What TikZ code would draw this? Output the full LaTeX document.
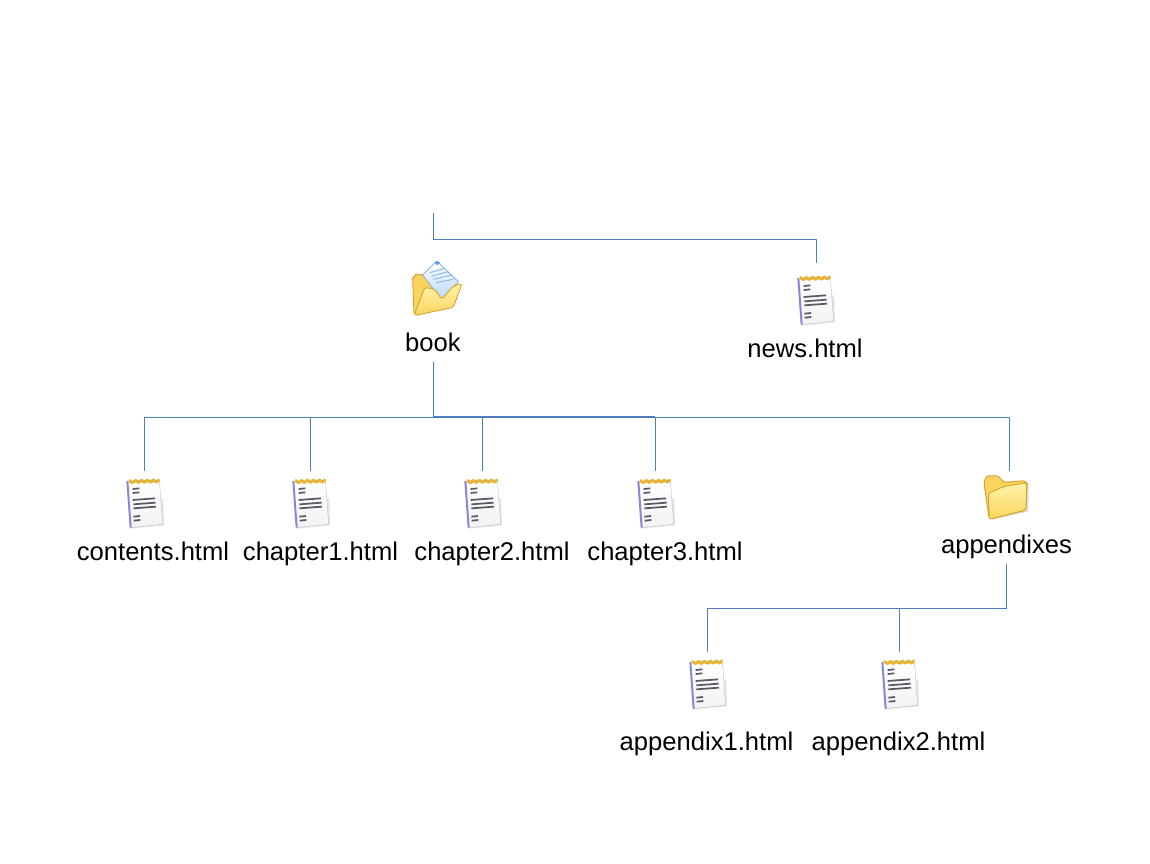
\documentclass[tikz,border=0pt]{standalone}
\usepackage{fontspec}
\setmainfont{Liberation Sans}
\definecolor{wire}{RGB}{79,125,190}
\definecolor{fold}{RGB}{212,165,45}
\definecolor{foldhi}{RGB}{255,244,170}
\definecolor{foldlo}{RGB}{250,212,95}
\definecolor{ink}{RGB}{85,90,100}
\definecolor{ring}{RGB}{232,180,50}
\definecolor{padedge}{RGB}{135,135,215}
\definecolor{paperlo}{RGB}{185,215,250}
\definecolor{paperedge}{RGB}{130,170,225}
\definecolor{paperline}{RGB}{150,185,235}
\definecolor{papertip}{RGB}{70,150,235}
\tikzset{
  x=0.75pt,y=-0.75pt,
  label/.style={font=\fontsize{19.2}{22}\selectfont,text=black,inner sep=0pt,minimum height=30pt,outer sep=0pt,align=center,text height=14pt,text depth=0pt},
  iconbox/.style={inner sep=0pt,outer sep=0pt,minimum width=27pt},
  conn/.style={draw=wire,line width=0.75pt},
  connheavy/.style={draw=wire,line width=1.2pt},
  notepad/.pic={
    \begin{scope}[scale=1/3]
      \fill[black!10] (60,191) -- (162,181) -- (160,100) -- (155,100) -- cycle;
      \shade[top color=white,bottom color=black!5,draw=black!25,line width=0.3pt]
        (52,48) -- (148,45) -- (158,178) -- (62,188) -- cycle;
      \draw[padedge,line width=1.5pt] (52,48) -- (62,188);
      \draw[ink!55,line width=1pt] (56,50) -- (146,47);
      \foreach \i in {0,1,2,3,4}
        \draw[ring,line width=1.9pt,line cap=round] (60+\i*18,46-\i*0.5) arc[start angle=180,end angle=0,radius=7];
      \draw[ink,line width=1.3pt]
        (68,72) -- (88,70) (68,84) -- (88,82)
        (68,105) -- (135,100) (70,118) -- (137,113) (70,130) -- (138,125)
        (70,155) -- (90,153) (71,167) -- (91,165);
    \end{scope}
  },
  closedfolder/.pic={
    \begin{scope}[scale=1/3]
      \fill[black!12] (62,180) -- (175,155) -- (176,80) -- (165,150) -- cycle;
      \filldraw[fill=foldlo,draw=fold,line width=0.7pt,rounded corners=2pt]
        (42,70) -- (48,48) -- (85,47) -- (100,67) -- (165,62) -- (172,72) -- (168,150) -- (58,178) -- cycle;
      \shade[top color=foldhi,bottom color=foldlo,draw=fold,line width=0.7pt,rounded corners=2pt]
        (55,100) -- (100,80) -- (170,68) -- (168,150) -- (58,178) -- cycle;
    \end{scope}
  },
  openfolder/.pic={
    \begin{scope}[scale=1/3]
      \filldraw[fill=foldlo,draw=fold,line width=0.7pt,rounded corners=2pt]
        (68,235) -- (76,225) -- (97,222) -- (130,255) -- (130,300) -- (72,345) -- cycle;
      \shade[top color=white,bottom color=paperlo,draw=paperedge,line width=0.6pt]
        (140,183) -- (205,245) -- (155,300) -- (98,225) -- cycle;
      \draw[paperline,line width=0.8pt]
        (120,218) -- (165,205) (125,228) -- (175,215) (130,238) -- (185,225) (138,248) -- (190,238);
      \fill[papertip] (133,186) -- (150,186) -- (141,196) -- cycle;
      \shade[top color=foldhi,bottom color=foldlo,draw=fold,line width=0.7pt,rounded corners=2pt]
        (104,262) -- (135,268) -- (155,298) -- (190,258) -- (216,250) -- (190,322) -- (72,347) -- cycle;
    \end{scope}
  }
}
\begin{document}
\begin{tikzpicture}
\useasboundingbox (0,0) rectangle (1150,864);
\fill[white] (0,0) rectangle (1150,864);
% text labels
\node[label] (book) at (433,342) {book};
\node[label] (news) at (805,348) {news.html};
\node[label] (contents) at (153,551) {contents.html};
\node[label] (ch1) at (320.5,551) {chapter1.html};
\node[label] (ch2) at (492,551) {chapter2.html};
\node[label] (ch3) at (665,551) {chapter3.html};
\node[label] (appx) at (1006.5,544) {appendixes};
\node[label] (app1) at (706.5,741) {appendix1.html};
\node[label] (app2) at (898.5,741) {appendix2.html};
% icon boxes: their north anchors are where the connectors stop
\node[iconbox,minimum height=46.5pt] (inews) at (816,294) {};
\node[iconbox,minimum height=43.5pt] (icontents) at (144,500) {};
\node[iconbox,minimum height=43.5pt] (ich1) at (310,500) {};
\node[iconbox,minimum height=43.5pt] (ich2) at (482.5,500) {};
\node[iconbox,minimum height=43.5pt] (ich3) at (655,500) {};
\node[iconbox,minimum height=43.5pt] (iappx) at (1009,500) {};
\node[iconbox,minimum height=43.5pt] (iapp1) at (707,681) {};
\node[iconbox,minimum height=43.5pt] (iapp2) at (899,681) {};
% icons
\pic at (781,262) {notepad};
\pic at (110,465) {notepad};
\pic at (276,465) {notepad};
\pic at (448,465) {notepad};
\pic at (621,465) {notepad};
\pic at (673,646) {notepad};
\pic at (865,646) {notepad};
\pic at (970,460) {closedfolder};
\pic at (390,200) {openfolder};
% junctions
\coordinate (top) at (433,213);
\coordinate (topbus) at (433,239);
\coordinate (bus) at (433,417);
\coordinate (bus2) at (1006.5,608);
% connectors
\draw[conn] (top) -- (topbus) -| (inews.north);
\draw[conn] (book.south) -- (bus);
\draw[conn] (icontents.north) |- (bus);
\draw[conn] (ich1.north) |- (bus);
\draw[conn] (ich2.north) |- (bus);
\draw[conn] (iappx.north) |- (bus);
\draw[conn] (ich3.north) |- (bus);
\draw[connheavy] (bus) -- (bus -| ich3.north);
\draw[connheavy] (appx.south) -- (bus2);
\draw[conn] (iapp1.north) |- (bus2);
\draw[conn] (iapp2.north) |- (bus2);
\end{tikzpicture}
\end{document}
